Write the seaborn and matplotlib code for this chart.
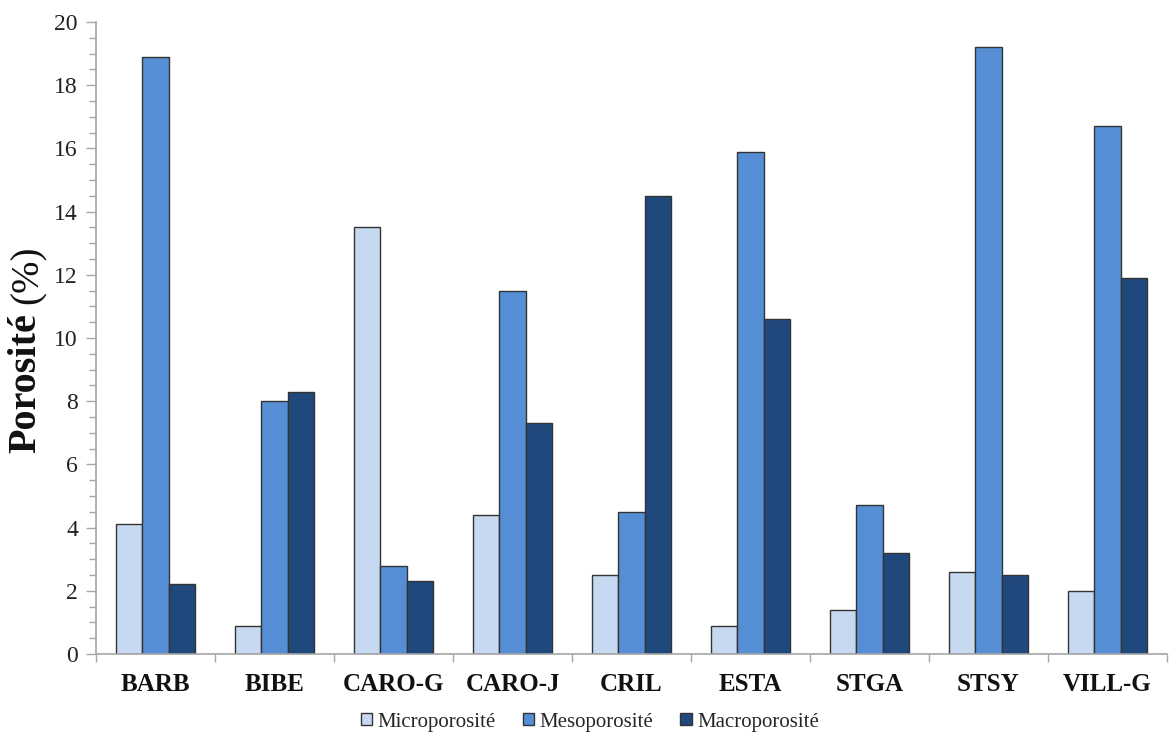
import matplotlib
matplotlib.use("Agg")
import matplotlib.pyplot as plt
from matplotlib.ticker import MultipleLocator, FixedLocator
import seaborn as sns
import pandas as pd

categories = ["BARB", "BIBE", "CARO-G", "CARO-J", "CRIL", "ESTA", "STGA", "STSY", "VILL-G"]
micro = [4.1, 0.9, 13.5, 4.4, 2.5, 0.9, 1.4, 2.6, 2.0]
meso = [18.9, 8.0, 2.8, 11.5, 4.5, 15.9, 4.7, 19.2, 16.7]
macro = [2.2, 8.3, 2.3, 7.3, 14.5, 10.6, 3.2, 2.5, 11.9]
series_names = ["Microporosité", "Mesoporosité", "Macroporosité"]
colors = ["#C6D9F0", "#558ED5", "#1F497D"]

rows = []
for name, vals in zip(series_names, [micro, meso, macro]):
    for c, v in zip(categories, vals):
        rows.append({"cat": c, "serie": name, "val": v})
df = pd.DataFrame(rows)

sns.set_theme(style="white")
plt.rcParams["font.family"] = ["Liberation Serif", "DejaVu Serif"]

W, H = 1171, 736
fig = plt.figure(figsize=(W / 100, H / 100), dpi=100)
ax = fig.add_axes([96 / W, 1 - 654 / H, (1167 - 96) / W, (654 - 22) / H])

sns.barplot(data=df, x="cat", y="val", hue="serie", order=categories,
            hue_order=series_names, palette=colors, saturation=1, width=0.66,
            edgecolor="#333333", linewidth=1.0, ax=ax, legend=True)

ax.set_ylim(0, 20)
ax.set_xlim(-0.5, len(categories) - 0.5)
ax.yaxis.set_major_locator(MultipleLocator(2))
ax.yaxis.set_minor_locator(MultipleLocator(0.5))
ax.tick_params(axis="y", which="major", length=7, width=1, color="#A6A6A6",
               labelsize=17, direction="out", left=True, pad=6, labelcolor="#222222")
ax.tick_params(axis="y", which="minor", length=5, width=1, color="#A6A6A6",
               direction="out", left=True)
ax.xaxis.set_minor_locator(FixedLocator([i - 0.5 for i in range(len(categories) + 1)]))
ax.tick_params(axis="x", which="major", length=0, labelsize=18, pad=14, labelcolor="#111111")
ax.tick_params(axis="x", which="minor", length=6, width=1, color="#A6A6A6",
               direction="out", bottom=True)
for lab in ax.get_xticklabels():
    lab.set_fontweight("bold")

for s in ["top", "right"]:
    ax.spines[s].set_visible(False)
for s in ["left", "bottom"]:
    ax.spines[s].set_color("#A6A6A6")
    ax.spines[s].set_linewidth(1.2)

ax.set_xlabel("")
ax.set_ylabel("")

# Y label: bold "Porosité" + regular "(%)"
t1 = fig.text(26 / W, 1 - 453 / H, "Porosité", rotation=90, fontsize=29,
              fontweight="bold", ha="center", va="bottom", color="#111111")
fig.canvas.draw()
bb = t1.get_window_extent()
t2 = fig.text(28 / W, (bb.y1 + 9) / H, "(%)", rotation=90, fontsize=28,
              ha="center", va="bottom", color="#111111")

handles, labels = ax.get_legend_handles_labels()
ax.get_legend().remove()
fig.legend(handles, labels, loc="center", bbox_to_anchor=(590 / W, 1 - 722 / H), ncol=3,
           frameon=False, fontsize=15, handlelength=0.55, handleheight=0.55,
           handletextpad=0.25, columnspacing=1.3, borderaxespad=0, borderpad=0)

fig.savefig("out.png", dpi=100)
